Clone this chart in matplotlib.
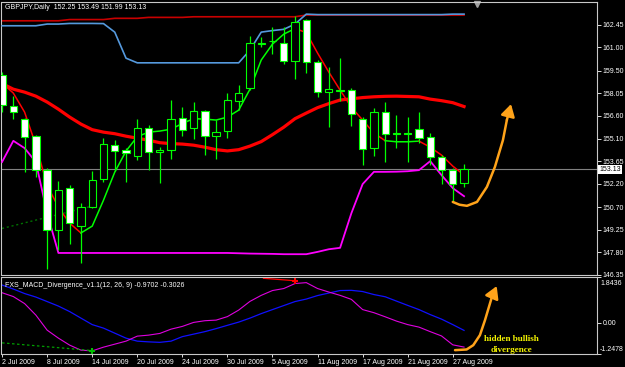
import matplotlib.pyplot as plt

# GBPJPY daily, one bar per trading day from 2 Jul to 28 Aug 2009
label_bars = [0, 4, 8, 12, 16, 20, 24, 28, 32, 36, 40]
date_labels = ['2 Jul 2009', '8 Jul 2009', '14 Jul 2009', '20 Jul 2009', '24 Jul 2009',
               '30 Jul 2009', '5 Aug 2009', '11 Aug 2009', '17 Aug 2009', '21 Aug 2009',
               '27 Aug 2009']

opens = [159.23, 157.23, 156.37, 155.27, 153.12, 149.25, 151.90, 149.51, 150.71, 152.48,
         154.67, 154.37, 154.00, 155.77, 154.22, 154.37, 156.42, 155.77, 156.89, 155.27,
         155.60, 157.55, 158.35, 161.22, 161.38, 161.25, 160.13, 162.76, 160.03, 158.13,
         158.21, 158.24, 156.37, 154.48, 156.80, 155.47, 155.45, 155.74, 155.19, 153.90,
         153.12, 152.25]
highs = [159.40, 157.85, 156.43, 155.34, 153.20, 152.37, 152.11, 150.97, 153.01, 155.14,
         155.01, 154.54, 156.35, 155.98, 154.58, 157.60, 157.12, 157.45, 156.95, 156.31,
         158.03, 158.56, 161.72, 161.68, 162.31, 162.31, 163.03, 162.82, 160.18, 159.74,
         160.29, 158.35, 156.52, 157.06, 157.49, 156.63, 156.52, 156.80, 155.45, 154.05,
         153.21, 153.49]
lows = [156.82, 156.35, 152.97, 152.65, 146.69, 147.92, 148.31, 147.10, 150.63, 152.32,
        153.01, 152.32, 153.72, 153.08, 152.26, 153.77, 155.27, 155.12, 154.05, 153.83,
        155.16, 156.95, 158.24, 161.00, 160.56, 159.90, 158.93, 159.32, 157.77, 155.87,
        157.55, 155.92, 153.40, 154.00, 153.62, 154.48, 153.62, 154.80, 153.40, 152.18,
        151.05, 151.99]
closes = [157.25, 156.80, 155.23, 153.06, 149.25, 151.83, 149.68, 150.71, 152.43, 154.74,
          154.32, 154.16, 155.77, 154.22, 154.37, 156.37, 155.66, 156.89, 155.27, 155.55,
          157.58, 158.03, 161.25, 161.25, 161.42, 160.13, 162.61, 160.03, 158.13, 158.29,
          158.24, 156.69, 154.42, 156.80, 155.40, 155.43, 155.42, 155.16, 153.90, 153.12,
          152.20, 153.13]

# indicator lines on the price chart
long_high = [162.71, 162.71, 162.71, 162.71, 162.71, 162.71, 162.79, 162.79, 162.79, 162.79,
             162.87, 162.87, 162.87, 162.93, 162.93, 162.93, 162.93, 162.97, 162.97, 162.97,
             162.97, 162.97, 162.97, 162.97, 162.97, 162.97, 162.97, 163.08, 163.08, 163.08,
             163.08, 163.08, 163.08, 163.08, 163.08, 163.08, 163.08, 163.08, 163.08, 163.08,
             163.08, 163.08]
channel_high = [162.39, 162.39, 162.39, 162.39, 162.50, 162.50, 162.54, 162.54, 162.54, 162.53,
                161.98, 160.30, 160.00, 160.00, 160.00, 160.00, 160.00, 160.00, 160.00, 160.00,
                160.00, 160.00, 160.82, 161.98, 162.08, 162.16, 162.50, 163.14, 163.11, 163.11,
                163.11, 163.11, 163.11, 163.11, 163.11, 163.11, 163.11, 163.11, 163.11, 163.11,
                163.14, 163.14]
channel_low = [153.61, 154.97, 154.50, 153.60, 150.30, 147.74, 147.74, 147.74, 147.74, 147.74,
               147.74, 147.74, 147.74, 147.74, 147.74, 147.74, 147.74, 147.74, 147.74, 147.74,
               147.74, 147.72, 147.70, 147.69, 147.68, 147.66, 147.66, 147.66, 147.81, 147.98,
               148.07, 150.30, 152.18, 152.97, 152.97, 152.98, 153.01, 153.08, 153.66, 152.76,
               151.92, 151.40]
slow_ma = [158.66, 158.30, 158.11, 157.85, 157.47, 157.01, 156.50, 156.05, 155.69, 155.53,
           155.43, 155.27, 155.14, 155.01, 154.85, 154.79, 154.76, 154.69, 154.56, 154.40,
           154.32, 154.40, 154.63, 154.92, 155.37, 155.85, 156.40, 156.76, 157.11, 157.37,
           157.60, 157.68, 157.76, 157.81, 157.84, 157.85, 157.83, 157.81, 157.66, 157.56,
           157.43, 157.18]
trend = [158.69, 158.05, 156.82, 154.69, 152.11, 150.69, 149.66, 149.03, 149.47, 151.14,
         152.95, 154.31, 155.24, 155.53, 155.60, 155.72, 156.09, 156.40, 156.37, 156.31,
         156.50, 156.95, 158.30, 160.18, 161.21, 161.85, 162.21, 161.95, 160.63, 159.40,
         158.24, 157.14, 156.31, 155.47, 154.98, 154.91, 154.91, 154.95, 154.56, 154.05,
         153.34, 152.76]
trend_segments = [(0, 7, '#ff0000'), (7, 26, '#00ff00'), (26, 34, '#ff0000'),
                  (34, 37, '#00ff00'), (37, 41, '#ff0000')]
price_div_x = [0, 8]
price_div_y = [149.32, 150.76]

# MACD window
macd_main = [1.203, 1.050, 0.769, 0.308, -0.293, -0.613, -0.893, -1.094, -1.122, -0.974,
             -0.854, -0.733, -0.533, -0.493, -0.425, -0.253, -0.144, 0.016, 0.084, 0.108,
             0.248, 0.509, 0.857, 1.098, 1.291, 1.371, 1.571, 1.607, 1.371, 1.230,
             1.098, 0.938, 0.529, 0.405, 0.241, 0.069, -0.072, -0.172, -0.353, -0.525,
             -0.881, -0.970]
macd_signal = [1.511, 1.351, 1.170, 1.030, 0.850, 0.669, 0.449, 0.188, -0.072, -0.212,
               -0.413, -0.613, -0.733, -0.762, -0.781, -0.733, -0.553, -0.453, -0.353, -0.232,
               -0.100, 0.028, 0.188, 0.368, 0.529, 0.690, 0.850, 0.950, 1.090, 1.191,
               1.291, 1.299, 1.251, 1.130, 1.042, 0.869, 0.697, 0.529, 0.329, 0.148,
               -0.072, -0.303]
bull_div_x = [0, 8]
bull_div_y = [-0.802, -1.11]
bear_div_x = [23.2, 26]
bear_div_y = [1.78, 1.683]

# hand-drawn orange arrows
arrow1_x = [40.0, 40.6, 41.26, 42.15, 43.03, 43.74, 44.45, 44.8]
arrow1_y = [151.03, 150.85, 150.78, 151.03, 152.00, 153.29, 155.01, 156.31]
arrow1_tip = (45.17, 157.34)
arrow2_x = [40.2, 41.23, 41.82, 42.41, 42.86, 43.45]
arrow2_y = [-1.094, -1.066, -0.894, -0.493, 0.108, 1.0]
arrow2_tip = (43.9, 1.47)

price_ticks = [162.45, 161.00, 159.50, 158.05, 156.60, 155.10, 153.65, 152.20,
               150.70, 149.25, 147.80, 146.35]
last_price = 153.13
macd_top, macd_bottom = 1.8436, -1.2478

plt.rcParams['font.family'] = ['Liberation Sans', 'DejaVu Sans']
fg = 'white'
border = '#c8c8c8'
orange = '#ffa31a'

fig = plt.figure(figsize=(6.25, 3.67), dpi=100, facecolor='black')
ax = fig.add_axes([0.0024, 0.252, 0.9528, 0.7433], facecolor='black')
ax2 = fig.add_axes([0.0024, 0.0354, 0.9528, 0.2106], facecolor='black')

x = list(range(len(opens)))

# ---- price window
ax.axhline(last_price, color='#808080', lw=0.8, zorder=1)
ax.plot(x, long_high, color='#c80000', lw=1.2, zorder=2)
ax.plot(x, channel_high, color='#5599dd', lw=1.2, zorder=3)
ax.plot(x, channel_low, color='#ff00ff', lw=1.3, zorder=3)
ax.plot(x, slow_ma, color='#ff0000', lw=2.3, zorder=3)
for a, b, col in trend_segments:
    ax.plot(x[a:b + 1], trend[a:b + 1], color=col, lw=1.1, zorder=4)
ax.plot(price_div_x, price_div_y, color='#007000', lw=1.0, ls=(0, (1.5, 2)), zorder=2)

fills = ['black' if c >= o else 'white' for o, c in zip(opens, closes)]
heights = [c - o if abs(c - o) > 0.01 else 0.01 for o, c in zip(opens, closes)]
ax.vlines(x, lows, highs, color='#00ff00', lw=0.9, zorder=5)
ax.bar(x, heights, bottom=opens, width=0.65, color=fills, edgecolor='#00ff00',
       linewidth=0.8, zorder=6)

ax.plot(arrow1_x, arrow1_y, color=orange, lw=1.8, solid_capstyle='round', zorder=8)
ax.annotate('', xy=arrow1_tip, xytext=(arrow1_x[-1], arrow1_y[-1]),
            arrowprops=dict(arrowstyle='-|>,head_length=0.6,head_width=0.35',
                            color=orange, lw=1.8, mutation_scale=12, shrinkA=0, shrinkB=0),
            zorder=8)

ax.set_xlim(-0.05, 52.8)
ax.set_ylim(146.35, 163.94)
ax.set_xticks([])
ax.yaxis.tick_right()
ax.set_yticks(price_ticks)
ax.set_yticklabels(['%.2f' % p for p in price_ticks])
ax.tick_params(axis='y', colors=fg, labelsize=5, length=3, width=0.6, pad=1)
ax.text(1.004, last_price, '%.2f' % last_price, transform=ax.get_yaxis_transform(),
        fontsize=5, color='black', va='center', ha='left',
        bbox=dict(facecolor='white', edgecolor='none', pad=0.8))
ax.text(0.006, 0.99, 'GBPJPY,Daily  152.25 153.49 151.99 153.13', transform=ax.transAxes,
        color=fg, fontsize=5, va='top', ha='left')
ax.plot([42.15], [0.99], marker='v', color='#a0a0a0', ms=4, transform=ax.get_xaxis_transform(),
        clip_on=False)

# ---- MACD window
ax2.plot(x, macd_signal, color='#1010ff', lw=0.9)
ax2.plot(x, macd_main, color='#e000e0', lw=0.8)
ax2.plot(bull_div_x, bull_div_y, color='#00a000', lw=0.9, ls=(0, (2, 2)))
ax2.plot(bull_div_x[-1], bull_div_y[-1], marker='+', color='#00c000', ms=5, mew=1.5)
ax2.plot(bear_div_x, bear_div_y, color='#ff0000', lw=0.9)
ax2.plot(bear_div_x[-1], bear_div_y[-1], marker='+', color='#ff0000', ms=5, mew=1.5)

ax2.plot(arrow2_x, arrow2_y, color=orange, lw=1.8, solid_capstyle='round', zorder=8)
ax2.annotate('', xy=arrow2_tip, xytext=(arrow2_x[-1], arrow2_y[-1]),
             arrowprops=dict(arrowstyle='-|>,head_length=0.6,head_width=0.35',
                             color=orange, lw=1.8, mutation_scale=12, shrinkA=0, shrinkB=0),
             zorder=8)
ax2.text(45.2, -0.653, 'hidden bullish', color='#f0f000', fontsize=6.6, fontweight='bold',
         family='Liberation Serif', ha='center', va='center')
ax2.text(45.2, -1.094, 'divergence', color='#f0f000', fontsize=6.6, fontweight='bold',
         family='Liberation Serif', ha='center', va='center')

ax2.text(0.006, 0.93, 'FXS_MACD_Divergence_v1.1(12, 26, 9) -0.9702 -0.3026',
         transform=ax2.transAxes, color=fg, fontsize=5, va='top', ha='left')

ax2.set_xlim(-0.05, 52.8)
ax2.set_ylim(macd_bottom, macd_top)
ax2.yaxis.tick_right()
ax2.set_yticks([macd_top, 0.0, macd_bottom])
ax2.set_yticklabels(['', '0.00', ''])
ax2.tick_params(axis='y', colors=fg, labelsize=5, length=3, width=0.6, pad=1)
# top and bottom scale values sit just inside the window
ax2.text(1.005, 0.915, '%.4f' % macd_top, transform=ax2.transAxes, color=fg, fontsize=5,
         va='center', ha='left')
ax2.text(1.005, 0.06, '%.4f' % macd_bottom, transform=ax2.transAxes, color=fg, fontsize=5,
         va='center', ha='left')
ax2.set_xticks(label_bars)
ax2.set_xticklabels(date_labels, ha='left')
ax2.tick_params(axis='x', colors=fg, labelsize=5, length=2, width=0.6, pad=1.5)

for a in (ax, ax2):
    for s in a.spines.values():
        s.set_color(border)
        s.set_linewidth(0.8)

fig.savefig('out.png', dpi=100, facecolor='black')
